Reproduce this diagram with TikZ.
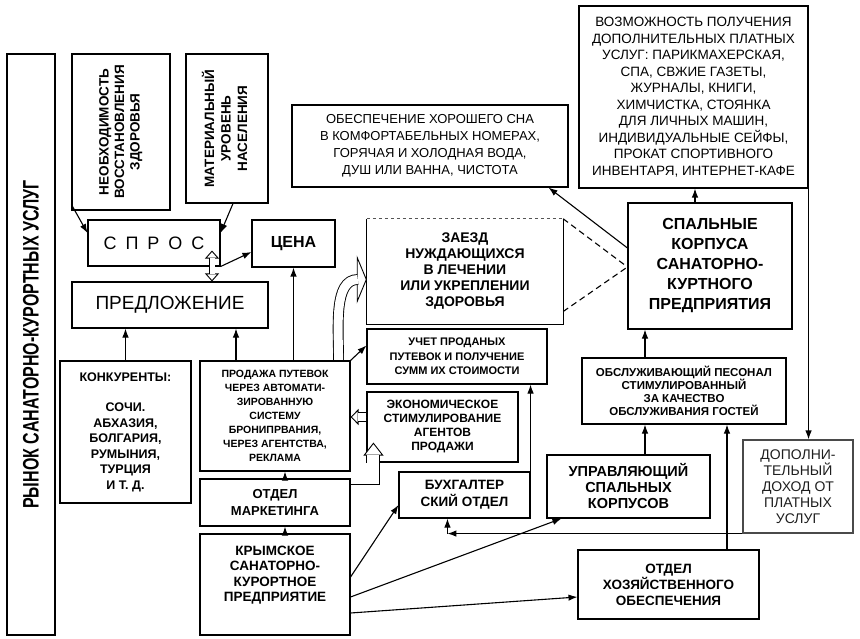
\documentclass[tikz,border=0pt]{standalone}
\usepackage{fontspec}
\usepackage{graphicx}
\setmainfont{Liberation Sans}
\usetikzlibrary{arrows.meta,calc}
\definecolor{incomegray}{HTML}{1E1E1E}
\definecolor{incomeline}{HTML}{4A4A4A}
\definecolor{dashgray}{HTML}{555555}
\newcommand{\setfs}[2]{\fontsize{#1}{#2}\selectfont}

\tikzset{
  box/.style={draw, line width=1.1pt, inner sep=0pt, align=center},
  arr/.style={line width=1.1pt, -{Latex[length=9pt,width=6.5pt]}},
  hollow/.style n args={3}{draw=white, line width=0.9pt,
    -{Triangle[color=black, fill=white, line width=0.9pt, length=#2, width=#3]},
    postaction={draw=black, double=white, double distance=#1, -, shorten >=#2-1pt}},
  hollowboth/.style n args={3}{draw=white, line width=0.9pt,
    {Triangle[color=black, fill=white, line width=0.9pt, length=#2, width=#3]}-{Triangle[color=black, fill=white, line width=0.9pt, length=#2, width=#3]},
    postaction={draw=black, double=white, double distance=#1, -, shorten >=#2-1pt, shorten <=#2-1pt}},
  link/.style={line width=1.1pt, dash pattern=on 6pt off 4pt}
}

\begin{document}
\begin{tikzpicture}[x=1pt, y=-1pt]
  \useasboundingbox (0,0) rectangle (860,639);

  % left column
  \node[box, minimum width=48pt, minimum height=581pt] (market) at (31,344.5)
    {\rotatebox{90}{\scalebox{1}[1.4]{\setfs{16}{19}\bfseries РЫНОК САНАТОРНО-КУРОРТНЫХ УСЛУГ}}};
  \node[box, minimum width=98pt, minimum height=156pt] (need) at (121,132)
    {\rotatebox{90}{\setfs{13.5}{15.5}\bfseries\begin{tabular}{@{}c@{}}НЕОБХОДИМОСТЬ\\ВОССТАНОВЛЕНИЯ\\ЗДОРОВЬЯ\end{tabular}}};
  \node[box, minimum width=82pt, minimum height=149pt] (level) at (227,128.5)
    {\rotatebox{90}{\setfs{13.5}{16.5}\bfseries\begin{tabular}{@{}c@{}}МАТЕРИАЛЬНЫЙ\\УРОВЕНЬ\\НАСЕЛЕНИЯ\end{tabular}}};
  \node[box, minimum width=132pt, minimum height=46pt, font=\setfs{18}{20}] (spros) at (154,243)
    {С\hspace{9pt}П\hspace{9pt}Р\hspace{9pt}О\hspace{9pt}С};
  \node[box, minimum width=83pt, minimum height=47pt, font=\setfs{16}{18}\bfseries] (price) at (293.5,243.5) {ЦЕНА};
  \node[box, minimum width=196pt, minimum height=46pt, font=\setfs{19}{21}] (offer) at (170,305) {ПРЕДЛОЖЕНИЕ};
  \node[box, minimum width=131pt, minimum height=142pt, font=\setfs{12.5}{15.5}\bfseries] (rivals) at (125.5,432)
    {КОНКУРЕНТЫ:\\[15pt]СОЧИ.\\АБХАЗИЯ,\\БОЛГАРИЯ,\\РУМЫНИЯ,\\ТУРЦИЯ\\И Т. Д.};
  \node[box, minimum width=150pt, minimum height=110pt, font=\setfs{10.5}{14}\bfseries] (sales) at (275,416)
    {ПРОДАЖА ПУТЕВОК\\ЧЕРЕЗ АВТОМАТИ-\\ЗИРОВАННУЮ\\СИСТЕМУ\\БРОНИПРВАНИЯ,\\ЧЕРЕЗ АГЕНТСТВА,\\РЕКЛАМА};
  \node[box, minimum width=150pt, minimum height=47pt, font=\setfs{13}{17}\bfseries] (mkt) at (275,502.5)
    {ОТДЕЛ\\МАРКЕТИНГА};
  \node[box, minimum width=150pt, minimum height=101pt, font=\setfs{13.5}{15.6}\bfseries] (crimea) at (275,584.5)
    {КРЫМСКОЕ\\САНАТОРНО-\\КУРОРТНОЕ\\ПРЕДПРИЯТИЕ\\[6pt]~};

  % middle column
  \node[inner sep=0pt, minimum width=196pt, minimum height=105pt, align=center, font=\setfs{14}{16}\bfseries] (arrival) at (465,271.5)
    {ЗАЕЗД\\НУЖДАЮЩИХСЯ\\В ЛЕЧЕНИИ\\ИЛИ УКРЕПЛЕНИИ\\ЗДОРОВЬЯ};
  \draw[line width=1.1pt] (arrival.north west) -- (arrival.south west) -- (arrival.south east) -- (arrival.north east);
  \draw[dashgray, line width=1pt, dashed] (arrival.north west) -- (arrival.north east);
  \node[box, minimum width=180pt, minimum height=55pt, font=\setfs{11}{14.5}\bfseries] (account) at (457,356.5)
    {УЧЕТ ПРОДАНЫХ\\ПУТЕВОК И ПОЛУЧЕНИЕ\\СУММ ИХ СТОИМОСТИ};
  \node[box, minimum width=151pt, minimum height=70pt, font=\setfs{12}{14}\bfseries] (stimul) at (442.5,427)
    {ЭКОНОМИЧЕСКОЕ\\СТИМУЛИРОВАНИЕ\\АГЕНТОВ\\ПРОДАЖИ};
  \node[box, minimum width=131pt, minimum height=46pt, font=\setfs{13.5}{17}\bfseries] (buh) at (464.5,495)
    {БУХГАЛТЕР\\СКИЙ ОТДЕЛ};
  \node[box, minimum width=276pt, minimum height=82pt, font=\setfs{13}{17}] (sleep) at (430,146)
    {ОБЕСПЕЧЕНИЕ ХОРОШЕГО СНА\\В КОМФОРТАБЕЛЬНЫХ НОМЕРАХ,\\ГОРЯЧАЯ И ХОЛОДНАЯ ВОДА,\\ДУШ ИЛИ ВАННА, ЧИСТОТА};

  % right column
  \node[box, minimum width=229pt, minimum height=182pt, font=\setfs{13.5}{16.5}] (extras) at (693.5,97)
    {ВОЗМОЖНОСТЬ ПОЛУЧЕНИЯ\\ДОПОЛНИТЕЛЬНЫХ ПЛАТНЫХ\\УСЛУГ: ПАРИКМАХЕРСКАЯ,\\СПА, СВЖИЕ ГАЗЕТЫ,\\ЖУРНАЛЫ, КНИГИ,\\ХИМЧИСТКА, СТОЯНКА\\ДЛЯ ЛИЧНЫХ МАШИН,\\ИНДИВИДУАЛЬНЫЕ СЕЙФЫ,\\ПРОКАТ СПОРТИВНОГО\\ИНВЕНТАРЯ, ИНТЕРНЕТ-КАФЕ};
  \node[box, minimum width=164pt, minimum height=126pt, font=\setfs{16}{20}\bfseries] (blocks) at (710,266)
    {СПАЛЬНЫЕ\\КОРПУСА\\САНАТОРНО-\\КУРТНОГО\\ПРЕДПРИЯТИЯ};
  \node[box, minimum width=204pt, minimum height=66pt, font=\setfs{11.5}{13}\bfseries] (staff) at (684,391)
    {ОБСЛУЖИВАЮЩИЙ ПЕСОНАЛ\\СТИМУЛИРОВАННЫЙ\\ЗА КАЧЕСТВО\\ОБСЛУЖИВАНИЯ ГОСТЕЙ};
  \node[box, minimum width=163pt, minimum height=63pt, font=\setfs{14.5}{16}\bfseries] (manager) at (628.5,486.5)
    {УПРАВЛЯЮЩИЙ\\СПАЛЬНЫХ\\КОРПУСОВ};
  \node[box, minimum width=181pt, minimum height=69pt, font=\setfs{13.5}{16}\bfseries] (supply) at (668.5,584.5)
    {ОТДЕЛ\\ХОЗЯЙСТВЕННОГО\\ОБЕСПЕЧЕНИЯ};
  \node[box, draw=incomeline, text=incomegray, minimum width=110pt, minimum height=93pt, font=\setfs{14}{16}] (income) at (798,486.5)
    {ДОПОЛНИ-\\ТЕЛЬНЫЙ\\ДОХОД ОТ\\ПЛАТНЫХ\\УСЛУГ};

  % demand and supply
  \draw[arr] ([yshift=6pt]need.south west) -- ([yshift=10pt]spros.west);
  \draw[arr] ([xshift=6pt]level.south) -- ([yshift=10pt]spros.east);
  \draw[arr] (spros.south east) -- ([yshift=-8.5pt]price.west);
  \draw[hollowboth={5pt}{8pt}{14pt}] ([xshift=58pt,yshift=16pt]spros.south) -- ([xshift=42pt]offer.north);
  \draw[arr] (rivals.north) -- (rivals.north |- offer.south);
  \draw[arr] ([xshift=-39pt]sales.north) -- ([xshift=-39pt]sales.north |- offer.south);
  \draw[arr] (sales.north -| price.south) -- (price.south);
  \draw[arr] ([xshift=10pt]crimea.north) -- ([xshift=10pt]mkt.south);
  \draw[arr] ([xshift=10pt]mkt.north) -- ([xshift=10pt]sales.south);

  % sales and accounting
  \draw[hollow={9pt}{10pt}{48pt}] ([xshift=-12pt,yshift=0.6pt]sales.north east) to[out=90, in=180] ([yshift=-8pt]arrival.west);
  \draw[arr] (sales.north east) -- ([yshift=11pt]account.west);
  \draw[hollow={8pt}{8pt}{16pt}] ([yshift=10pt]stimul.west) -- ([yshift=10pt]stimul.west -| sales.east);
  \draw[hollow={12pt}{13pt}{20pt}] ([xshift=0.6pt]mkt.north east) -| ([xshift=7pt,yshift=20pt]stimul.south west);
  \draw[arr] (buh.north east) -- (buh.north east |- account.south);
  \draw[arr] ([yshift=7.5pt]crimea.east) -- ([yshift=-10pt]buh.west);
  \draw[arr] ([yshift=-12.5pt]crimea.east) -- ([xshift=15pt]manager.south west);
  \draw[arr] ([yshift=-28.5pt]crimea.east) -- ([yshift=-12.5pt]supply.west);

  % sleeping blocks
  \draw[arr] ([xshift=16.5pt]manager.north) -- ([xshift=16.5pt]manager.north |- staff.south);
  \draw[arr] ([xshift=-39pt]staff.north) -- ([xshift=-39pt]staff.north |- blocks.south);
  \draw[arr] ([xshift=58.5pt]supply.north) -- ([xshift=58.5pt]supply.north |- staff.south);
  \draw[arr] ([xshift=-15pt]blocks.north) -- ([xshift=-15pt]blocks.north |- extras.south);
  \draw[arr] ([yshift=18pt]blocks.west) -- ([xshift=-20pt]sleep.south east);
  \draw[link] (arrival.north east) -- ([yshift=-1pt]blocks.west);
  \draw[link] ([yshift=-40pt]arrival.east) -- ([yshift=-1pt]blocks.west);

  % extra income
  \coordinate (turn) at ([xshift=49pt]buh.south west |- income.south west);
  \draw[arr] (extras.south east) -- (extras.south east |- income.north);
  \draw[arr] (income.south west) -- (turn);
  \draw[arr] (turn) -- (turn |- buh.south);
\end{tikzpicture}
\end{document}
